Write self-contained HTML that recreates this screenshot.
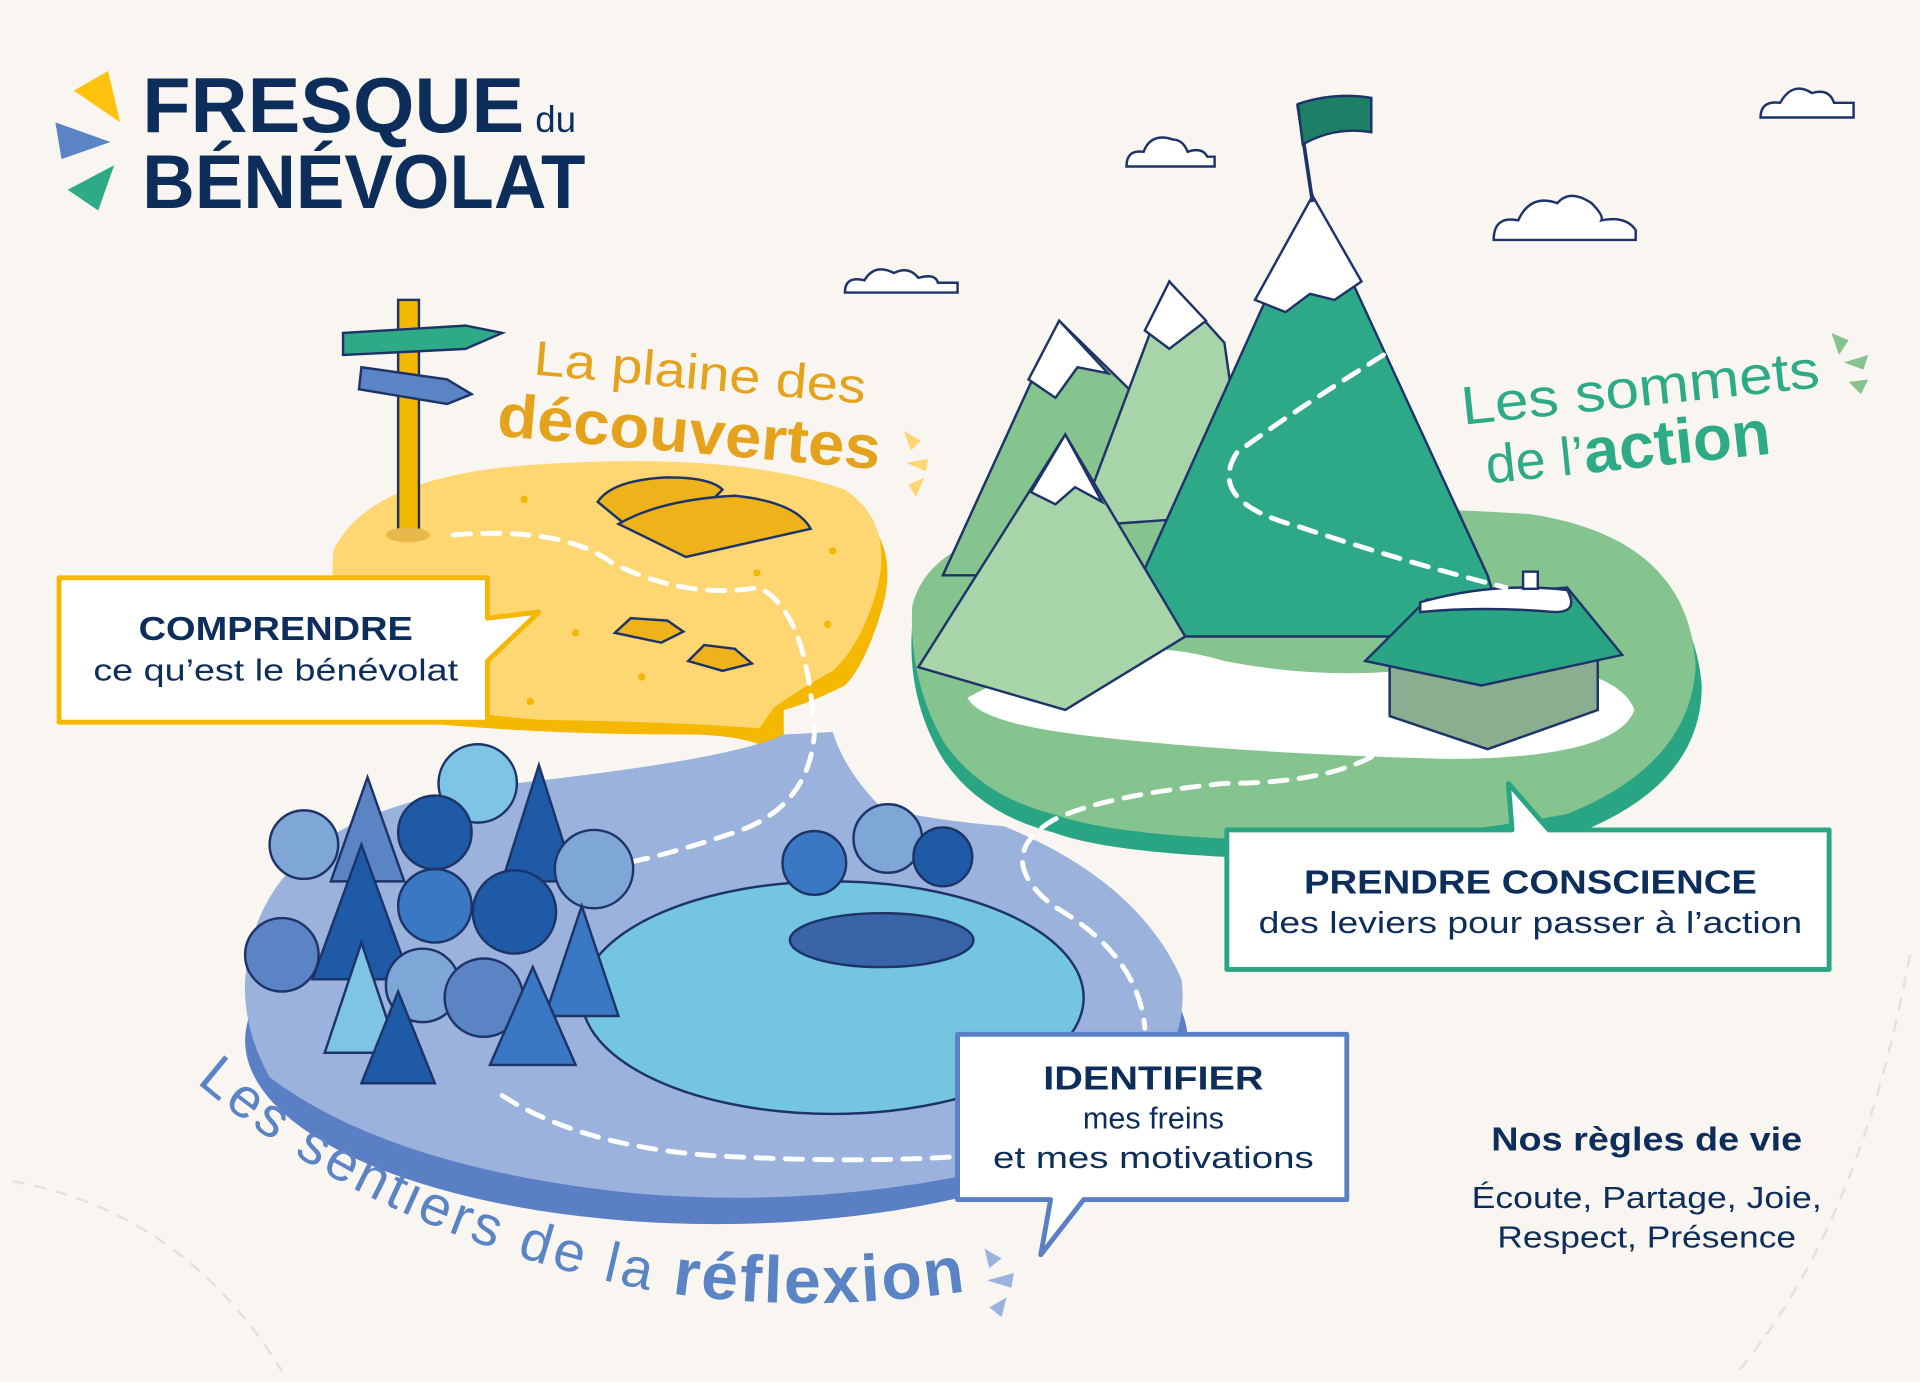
<!DOCTYPE html>
<html><head><meta charset="utf-8"><style>
html,body{margin:0;padding:0;background:#f9f6f2}
svg{display:block}
text{font-family:"Liberation Sans","DejaVu Sans",sans-serif}
</style></head><body>
<svg width="1920" height="1382" viewBox="0 0 1568 1129" xmlns="http://www.w3.org/2000/svg">
<defs>
<path id="arcB" d="M160 884 Q300 1005 520 1052 Q660 1078 820 1050"/>
</defs>
<rect width="1568" height="1129" fill="#f9f6f2"/>
<path d="M10 965 Q150 990 230 1120" fill="none" stroke="#e6e0d8" stroke-width="2" stroke-dasharray="10 8"/>
<path d="M1560 780 Q1520 1000 1420 1120" fill="none" stroke="#e6e0d8" stroke-width="2" stroke-dasharray="10 8"/>
<!-- logo -->
<polygon points="88,58 98,100 60,74" fill="#ffc20e"/>
<polygon points="45,100 90,116 50,130" fill="#5b84c4"/>
<polygon points="93,135 80,172 55,155" fill="#2eaa86"/>
<text x="116" y="108" font-size="64" font-weight="700" fill="#0d2d5a" textLength="312" lengthAdjust="spacingAndGlyphs">FRESQUE</text>
<text x="437" y="108" font-size="30" fill="#0d2d5a">du</text>
<text x="116" y="170" font-size="62" font-weight="700" fill="#0d2d5a" textLength="362" lengthAdjust="spacingAndGlyphs">BÉNÉVOLAT</text>
<!-- clouds -->
<g fill="#fff" stroke="#1e3468" stroke-width="2">
<path d="M690 239 q0-14 16-10 q8-14 24-6 q12-6 20 4 q14-4 16 4 h16 v8 z"/>
<path d="M920 136 q0-14 14-12 q6-16 24-10 q8 0 12 10 q12-4 16 4 h6 v8 z"/>
<path d="M1220 196 q0-20 20-16 q10-22 32-14 q10-12 28 0 q10 10 8 14 q20-4 28 8 v8 z"/>
<path d="M1438 96 q0-14 16-12 q10-18 26-8 q14-4 18 8 h16 v12 z"/>
</g>
<!-- yellow plain -->
<path d="M272 462 Q300 395 430 385 Q600 370 690 410 Q740 440 718 505 Q705 545 690 560 Q660 575 640 580 L640 620 Q620 600 560 600 Q440 600 340 590 Q280 570 272 462 Z" fill="#f5b800"/>
<path d="M272 450 Q300 390 430 380 Q600 368 690 400 Q735 430 712 495 Q700 530 680 548 Q650 565 632 578 L620 595 Q560 590 440 588 Q330 580 290 550 Q268 510 272 450 Z" fill="#fed672"/>
<g fill="#f5b800"><circle cx="428" cy="408" r="3"/><circle cx="470" cy="517" r="3"/><circle cx="524" cy="553" r="3"/><circle cx="618" cy="468" r="3"/><circle cx="680" cy="450" r="3"/><circle cx="433" cy="573" r="3"/><circle cx="676" cy="510" r="3"/></g>
<!-- blue island -->
<ellipse cx="585" cy="850" rx="385" ry="150" fill="#5b7fc4"/>
<path d="M200 800 Q210 660 420 640 Q600 620 640 600 L680 598 Q690 630 720 660 Q760 670 820 675 Q930 720 965 800 Q975 880 870 940 Q700 990 520 975 Q320 955 220 880 Q198 840 200 800 Z" fill="#9bb3dc"/>
<ellipse cx="680" cy="815" rx="205" ry="95" fill="#74c6e0" stroke="#1e3468" stroke-width="2"/>
<ellipse cx="720" cy="768" rx="75" ry="22" fill="#3a64a8" stroke="#1e3468" stroke-width="2"/>
<!-- green island -->
<path d="M745 510 Q760 440 900 430 Q1100 420 1250 430 Q1380 450 1390 560 Q1390 640 1290 680 Q1150 705 1000 700 Q900 695 860 680 Q800 665 770 620 Q740 570 745 510 Z" fill="#2aa584"/>
<path d="M745 495 Q760 430 900 420 Q1100 410 1250 420 Q1380 440 1385 545 Q1380 625 1280 665 Q1150 690 1000 685 Q900 680 860 665 Q800 650 770 605 Q742 555 745 495 Z" fill="#85c38f"/>
<path d="M790 570 Q900 510 1000 540 Q1100 560 1200 540 Q1320 540 1335 580 Q1320 620 1180 620 Q1000 615 880 600 Q800 590 790 570 Z" fill="#fff"/>
<!-- mountains -->
<g stroke="#1e3468" stroke-width="2">
<polygon points="865,262 770,470 960,470 955,350" fill="#85c38f"/>
<polygon points="955,230 880,430 1020,420 1000,280" fill="#a7d4a8"/>
<polygon points="1072,160 910,520 1230,520 1215,470" fill="#2ea987"/>
<polygon points="870,355 750,545 870,580 968,520" fill="#a7d4a8"/>
<polygon points="865,262 840,310 862,325 880,300 905,305" fill="#fff"/>
<polygon points="955,230 935,270 955,285 985,262" fill="#fff"/>
<polygon points="1072,160 1025,245 1050,255 1070,240 1090,245 1112,230" fill="#fff"/>
<polygon points="870,355 842,402 862,412 878,398 900,410" fill="#fff"/>
</g>
<line x1="1072" y1="165" x2="1060" y2="85" stroke="#1e3468" stroke-width="3"/>
<path d="M1060 85 Q1090 75 1120 80 L1120 108 Q1090 103 1064 118 Z" fill="#1d8066" stroke="#1e3468" stroke-width="2"/>
<!-- chalet -->
<g stroke="#1e3468" stroke-width="2">
<polygon points="1135,540 1210,560 1305,530 1305,580 1215,612 1135,585" fill="#8cae90"/>
<polygon points="1115,540 1165,490 1280,480 1325,535 1210,560" fill="#2aa584"/>
<path d="M1160 492 Q1220 475 1280 482 Q1290 500 1270 500 Q1210 495 1160 500 Z" fill="#fff"/>
<rect x="1244" y="467" width="12" height="14" fill="#fff"/>
</g>
<!-- dashed paths -->
<g fill="none" stroke="#fff" stroke-width="4" stroke-dasharray="14 10" stroke-linecap="round">
<path d="M370 437 Q460 430 500 460 Q560 490 620 480 Q660 500 665 600 Q660 660 600 680 Q540 700 510 705"/>
<path d="M1130 290 Q1050 340 1010 370 Q985 410 1060 430 Q1150 460 1230 480"/>
<path d="M1140 605 Q1100 640 1000 640 Q900 650 860 670 Q810 700 860 740 Q930 780 935 840"/>
<path d="M410 895 Q480 940 600 945 Q700 950 780 945"/>
</g>
<!-- signpost -->
<rect x="325" y="245" width="17" height="190" fill="#f5b800" stroke="#1e3468" stroke-width="2"/>
<ellipse cx="333" cy="437" rx="18" ry="6" fill="#e8b84a"/>
<polygon points="280,272 380,266 410,272 380,285 280,290" fill="#2eaa86" stroke="#1e3468" stroke-width="2"/>
<polygon points="295,300 365,310 385,322 365,330 293,318" fill="#5b84c4" stroke="#1e3468" stroke-width="2"/>
<!-- rocks -->
<g stroke="#1e3468" stroke-width="2" fill="#eeb31a">
<path d="M488 410 Q500 392 545 390 Q580 390 590 400 L570 420 L510 428 Z"/>
<path d="M505 428 Q540 408 600 405 Q650 410 662 432 L560 455 Z"/>
<path d="M502 517 L515 505 L545 507 L558 516 L540 525 Z"/>
<path d="M562 540 L575 527 L600 530 L614 542 L590 548 Z"/>
</g>
<!-- trees -->
<g stroke="#1e3468" stroke-width="2">
<circle cx="248" cy="690" r="28" fill="#7ea7d8"/>
<polygon points="300,635 270,720 330,720" fill="#5b84c4"/>
<circle cx="390" cy="640" r="32" fill="#7ec5e5"/>
<circle cx="355" cy="680" r="30" fill="#1e5aa5"/>
<polygon points="440,625 410,720 470,720" fill="#1e5aa5"/>
<circle cx="485" cy="710" r="32" fill="#7ea7d8"/>
<circle cx="230" cy="780" r="30" fill="#5b84c4"/>
<polygon points="295,690 255,800 335,800" fill="#1e5aa5"/>
<circle cx="355" cy="740" r="30" fill="#3a78c4"/>
<circle cx="420" cy="745" r="34" fill="#1e5aa5"/>
<polygon points="475,740 445,830 505,830" fill="#3a78c4"/>
<polygon points="295,770 265,860 325,860" fill="#7ec5e5"/>
<circle cx="345" cy="805" r="30" fill="#7ea7d8"/>
<circle cx="395" cy="815" r="32" fill="#5b84c4"/>
<polygon points="325,810 295,885 355,885" fill="#1e5aa5"/>
<polygon points="435,790 400,870 470,870" fill="#3a78c4"/>
<circle cx="665" cy="705" r="26" fill="#3a78c4"/>
<circle cx="725" cy="685" r="28" fill="#7ea7d8"/>
<circle cx="770" cy="700" r="24" fill="#1e5aa5"/>
</g>
<!-- speech boxes -->
<g stroke-width="4" fill="#fff">
<path d="M48 472 H398 V505 L440 500 L398 540 V590 H48 Z" stroke="#f5b800" stroke-linejoin="round"/>
<path d="M1002 678 H1235 L1232 640 L1265 678 H1494 V792 H1002 Z" stroke="#2aa584" stroke-linejoin="round"/>
<path d="M782 845 H1100 V980 H885 L850 1025 L858 980 H782 Z" stroke="#5b7fc4" stroke-linejoin="round"/>
</g>
<g fill="#0d2d5a" text-anchor="middle">
<text x="225" y="523" font-size="27" font-weight="700" textLength="224" lengthAdjust="spacingAndGlyphs">COMPRENDRE</text>
<text x="225" y="556" font-size="25" textLength="298" lengthAdjust="spacingAndGlyphs">ce qu’est le bénévolat</text>
<text x="1250" y="730" font-size="27" font-weight="700" textLength="370" lengthAdjust="spacingAndGlyphs">PRENDRE CONSCIENCE</text>
<text x="1250" y="762" font-size="25" textLength="444" lengthAdjust="spacingAndGlyphs">des leviers pour passer à l’action</text>
<text x="942" y="890" font-size="27" font-weight="700" textLength="180" lengthAdjust="spacingAndGlyphs">IDENTIFIER</text>
<text x="942" y="922" font-size="25">mes freins</text>
<text x="942" y="954" font-size="25" textLength="262" lengthAdjust="spacingAndGlyphs">et mes motivations</text>
<text x="1345" y="940" font-size="27" font-weight="700" textLength="254" lengthAdjust="spacingAndGlyphs">Nos règles de vie</text>
<text x="1345" y="987" font-size="25" textLength="286" lengthAdjust="spacingAndGlyphs">Écoute, Partage, Joie,</text>
<text x="1345" y="1019" font-size="25" textLength="244" lengthAdjust="spacingAndGlyphs">Respect, Présence</text>
</g>
<!-- region titles -->
<text x="435" y="306" font-size="40" fill="#e5a21c" transform="rotate(5 435 306)" textLength="272" lengthAdjust="spacingAndGlyphs">La plaine des</text>
<text x="405" y="356" font-size="50" font-weight="700" fill="#e5a21c" transform="rotate(5 405 356)" textLength="314" lengthAdjust="spacingAndGlyphs">découvertes</text>
<text x="1195" y="347" font-size="44" fill="#2eaa86" transform="rotate(-6 1195 347)" textLength="294" lengthAdjust="spacingAndGlyphs">Les sommets</text>
<text x="1215" y="395" font-size="44" fill="#2eaa86" transform="rotate(-6 1215 395)">de l’<tspan font-weight="700" font-size="52">action</tspan></text>
<text font-size="46" fill="#5b84c4" letter-spacing="3"><textPath href="#arcB">Les sentiers de la <tspan font-weight="700" font-size="54" letter-spacing="2">réflexion</tspan></textPath></text>
<!-- sparks -->
<g fill="#fed672"><polygon points="738,352 752,360 744,368"/><polygon points="740,378 758,375 756,385"/><polygon points="742,396 755,390 748,406"/></g>
<g fill="#85c38f"><polygon points="1496,272 1510,278 1502,290"/><polygon points="1506,296 1526,290 1522,302"/><polygon points="1510,312 1526,310 1520,322"/></g>
<g fill="#9bb3dc"><polygon points="804,1020 818,1028 808,1036"/><polygon points="806,1046 828,1040 826,1052"/><polygon points="808,1068 822,1060 818,1076"/></g>
</svg>
</body></html>
